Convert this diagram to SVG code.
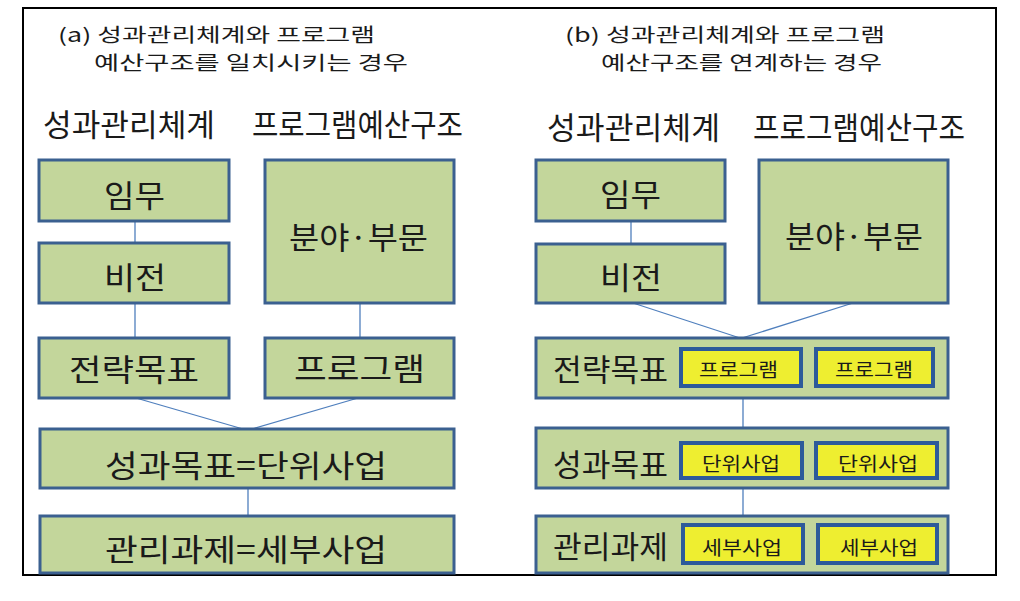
<svg xmlns="http://www.w3.org/2000/svg" width="1020" height="601" viewBox="0 0 1020 601">
<style>
.t{font-family:"Noto Sans CJK KR","Noto Sans",sans-serif;fill:#1a1a1a}
.title{font-size:19px}
.hdr{font-size:31px}
.big{font-size:31px}
.sm{font-size:19px}
.box{fill:#c3d69b;stroke:#3b6090;stroke-width:3}
.ibox{fill:#eeee30;stroke:#2d5a9a;stroke-width:4}
.con{stroke:#4f7fbd;stroke-width:1.3;fill:none}
</style>
<rect x="0" y="0" width="1020" height="601" fill="#ffffff"/>
<rect x="23" y="8" width="973" height="567" fill="none" stroke="#000" stroke-width="2"/>

<g id="titles">
<text class="t title" x="58" y="42" textLength="317" lengthAdjust="spacingAndGlyphs">(a) 성과관리체계와 프로그램</text>
<text class="t title" x="94" y="70" textLength="314" lengthAdjust="spacingAndGlyphs">예산구조를 일치시키는 경우</text>
<text class="t title" x="565" y="42" textLength="320" lengthAdjust="spacingAndGlyphs">(b) 성과관리체계와 프로그램</text>
<text class="t title" x="601" y="70" textLength="281" lengthAdjust="spacingAndGlyphs">예산구조를 연계하는 경우</text>
<text class="t hdr" x="43" y="136" textLength="172" lengthAdjust="spacingAndGlyphs">성과관리체계</text>
<text class="t hdr" x="252" y="136" textLength="211" lengthAdjust="spacingAndGlyphs">프로그램예산구조</text>
<text class="t hdr" x="547" y="139" textLength="173" lengthAdjust="spacingAndGlyphs">성과관리체계</text>
<text class="t hdr" x="753" y="139" textLength="212" lengthAdjust="spacingAndGlyphs">프로그램예산구조</text>
</g>

<g id="connectors">
<line class="con" x1="135" y1="221" x2="135" y2="243"/>
<line class="con" x1="135" y1="303" x2="135" y2="338"/>
<line class="con" x1="360" y1="303" x2="360" y2="338"/>
<line class="con" x1="136" y1="398" x2="243" y2="429"/>
<line class="con" x1="358" y1="398" x2="252" y2="429"/>
<line class="con" x1="248" y1="488" x2="248" y2="516"/>
<line class="con" x1="631" y1="221" x2="631" y2="244"/>
<line class="con" x1="633" y1="303" x2="740" y2="338"/>
<line class="con" x1="853" y1="303" x2="742" y2="338"/>
<line class="con" x1="743" y1="398" x2="743" y2="428"/>
<line class="con" x1="743" y1="488" x2="743" y2="516"/>
</g>

<g id="a-mission">
<rect class="box" x="39" y="160" width="190" height="61"/>
<text class="t big" x="104" y="207" textLength="61" lengthAdjust="spacingAndGlyphs">임무</text>
</g>
<g id="a-vision">
<rect class="box" x="39" y="243" width="190" height="60"/>
<text class="t big" x="104" y="289" textLength="62" lengthAdjust="spacingAndGlyphs">비전</text>
</g>
<g id="a-field">
<rect class="box" x="265" y="160" width="189" height="143"/>
<text class="t big" x="289" y="249" textLength="139" lengthAdjust="spacingAndGlyphs">분야·부문</text>
</g>
<g id="a-strategy">
<rect class="box" x="39" y="338" width="190" height="60"/>
<text class="t big" x="69" y="381" textLength="130" lengthAdjust="spacingAndGlyphs">전략목표</text>
</g>
<g id="a-program">
<rect class="box" x="265" y="338" width="189" height="60"/>
<text class="t big" x="294" y="380" textLength="131" lengthAdjust="spacingAndGlyphs">프로그램</text>
</g>
<g id="a-perf">
<rect class="box" x="40" y="429" width="414" height="59"/>
<text class="t big" x="105" y="477" textLength="282" lengthAdjust="spacingAndGlyphs">성과목표=단위사업</text>
</g>
<g id="a-task">
<rect class="box" x="40" y="516" width="414" height="57"/>
<text class="t big" x="105" y="561" textLength="282" lengthAdjust="spacingAndGlyphs">관리과제=세부사업</text>
</g>

<g id="b-mission">
<rect class="box" x="536" y="160" width="189" height="61"/>
<text class="t big" x="600" y="206" textLength="61" lengthAdjust="spacingAndGlyphs">임무</text>
</g>
<g id="b-vision">
<rect class="box" x="536" y="244" width="189" height="59"/>
<text class="t big" x="600" y="289" textLength="62" lengthAdjust="spacingAndGlyphs">비전</text>
</g>
<g id="b-field">
<rect class="box" x="759" y="160" width="189" height="143"/>
<text class="t big" x="785" y="248" textLength="138" lengthAdjust="spacingAndGlyphs">분야·부문</text>
</g>
<g id="b-strategy">
<rect class="box" x="536" y="338" width="412" height="60"/>
<text class="t big" x="553" y="381" textLength="115" lengthAdjust="spacingAndGlyphs">전략목표</text>
<rect class="ibox" x="681" y="349" width="120" height="37"/>
<text class="t sm" x="699" y="377" textLength="79" lengthAdjust="spacingAndGlyphs">프로그램</text>
<rect class="ibox" x="816" y="349" width="117" height="37"/>
<text class="t sm" x="835" y="377" textLength="78" lengthAdjust="spacingAndGlyphs">프로그램</text>
</g>
<g id="b-perf">
<rect class="box" x="536" y="428" width="412" height="60"/>
<text class="t big" x="553" y="476" textLength="115" lengthAdjust="spacingAndGlyphs">성과목표</text>
<rect class="ibox" x="681" y="443" width="121" height="35"/>
<text class="t sm" x="702" y="471" textLength="78" lengthAdjust="spacingAndGlyphs">단위사업</text>
<rect class="ibox" x="816" y="443" width="121" height="35"/>
<text class="t sm" x="838" y="471" textLength="80" lengthAdjust="spacingAndGlyphs">단위사업</text>
</g>
<g id="b-task">
<rect class="box" x="536" y="516" width="412" height="57"/>
<text class="t big" x="553" y="558" textLength="115" lengthAdjust="spacingAndGlyphs">관리과제</text>
<rect class="ibox" x="683" y="525" width="120" height="38"/>
<text class="t sm" x="702" y="555" textLength="80" lengthAdjust="spacingAndGlyphs">세부사업</text>
<rect class="ibox" x="818" y="525" width="119" height="38"/>
<text class="t sm" x="840" y="555" textLength="78" lengthAdjust="spacingAndGlyphs">세부사업</text>
</g>
</svg>
